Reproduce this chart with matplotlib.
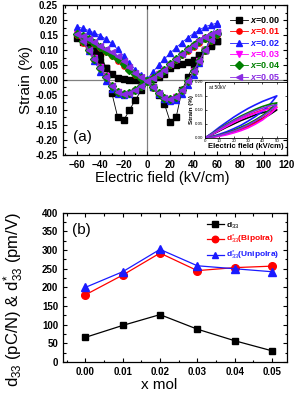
import numpy as np
import matplotlib.pyplot as plt
from matplotlib.ticker import MultipleLocator

plt.rcParams['font.family'] = ['Liberation Sans', 'DejaVu Sans']
plt.rcParams['mathtext.fontset'] = 'custom'
plt.rcParams['mathtext.rm'] = 'Liberation Sans'
plt.rcParams['mathtext.it'] = 'Liberation Sans:italic:bold'
plt.rcParams['mathtext.bf'] = 'Liberation Sans:bold'

# ---- panel (a): bipolar strain loops, field cycle 60 -> -60 -> 60 kV/cm ----
field_down = [60, 55, 50, 45, 40, 35, 30, 25, 20, 15, 10, 5, 0,
              -5, -10, -15, -20, -25, -30, -35, -40, -45, -50, -55, -60]
field_up = [-60, -55, -50, -45, -40, -35, -30, -25, -20, -15, -10, -5, 0,
            5, 10, 15, 20, 25, 30, 35, 40, 45, 50, 55, 60]

labels_a = ['x=0.00', 'x=0.01', 'x=0.02', 'x=0.03', 'x=0.04', 'x=0.05']
colors_a = ['black', 'red', '#1a1aff', '#ff00ff', '#008000', '#8a2be2']
markers_a = ['s', 'o', '^', 'v', 'D', '<']

strain_down = [
    [0.130, 0.115, 0.100, 0.085, 0.067, 0.060, 0.055, 0.050, 0.040, 0.020, 0.010, 0.002, -0.003,
     -0.035, -0.067, -0.100, -0.135, -0.125, -0.045, 0.040, 0.088, 0.110, 0.125, 0.135, 0.140],
    [0.150, 0.145, 0.136, 0.124, 0.111, 0.097, 0.082, 0.066, 0.049, 0.033, 0.018, 0.006, -0.005,
     -0.020, -0.034, -0.044, -0.046, -0.040, -0.020, 0.010, 0.040, 0.068, 0.097, 0.125, 0.150],
    [0.190, 0.184, 0.178, 0.167, 0.155, 0.141, 0.125, 0.108, 0.090, 0.070, 0.050, 0.026, 0.002,
     -0.018, -0.034, -0.046, -0.051, -0.046, -0.030, -0.005, 0.028, 0.062, 0.098, 0.138, 0.178],
    [0.152, 0.148, 0.139, 0.127, 0.114, 0.100, 0.085, 0.068, 0.051, 0.034, 0.019, 0.006, -0.006,
     -0.022, -0.037, -0.047, -0.049, -0.041, -0.019, 0.012, 0.043, 0.072, 0.101, 0.128, 0.152],
    [0.155, 0.150, 0.141, 0.129, 0.116, 0.102, 0.086, 0.069, 0.052, 0.035, 0.020, 0.007, -0.005,
     -0.021, -0.035, -0.045, -0.047, -0.040, -0.020, 0.010, 0.041, 0.070, 0.100, 0.129, 0.155],
    [0.160, 0.155, 0.145, 0.132, 0.118, 0.103, 0.087, 0.070, 0.052, 0.035, 0.020, 0.007, -0.005,
     -0.020, -0.035, -0.045, -0.047, -0.040, -0.020, 0.010, 0.040, 0.070, 0.100, 0.130, 0.155],
]
strain_up = [
    [0.140, 0.128, 0.112, 0.090, 0.065, 0.040, 0.020, 0.008, 0.003, 0.000, 0.000, 0.000, -0.005,
     -0.025, -0.050, -0.080, -0.140, -0.125, -0.035, 0.010, 0.050, 0.080, 0.100, 0.118, 0.130],
    [0.150, 0.143, 0.133, 0.120, 0.107, 0.093, 0.080, 0.064, 0.048, 0.032, 0.018, 0.006, -0.004,
     -0.026, -0.046, -0.060, -0.064, -0.056, -0.034, -0.004, 0.030, 0.064, 0.098, 0.130, 0.152],
    [0.180, 0.172, 0.165, 0.157, 0.148, 0.136, 0.122, 0.102, 0.080, 0.057, 0.035, 0.016, -0.002,
     -0.024, -0.046, -0.062, -0.070, -0.066, -0.048, -0.018, 0.018, 0.058, 0.100, 0.145, 0.188],
    [0.152, 0.145, 0.135, 0.122, 0.109, 0.096, 0.083, 0.067, 0.050, 0.034, 0.019, 0.007, -0.004,
     -0.027, -0.047, -0.061, -0.066, -0.058, -0.036, -0.006, 0.029, 0.064, 0.099, 0.132, 0.155],
    [0.155, 0.147, 0.137, 0.124, 0.111, 0.098, 0.085, 0.069, 0.052, 0.035, 0.020, 0.008, -0.003,
     -0.025, -0.045, -0.060, -0.065, -0.058, -0.035, -0.005, 0.030, 0.065, 0.100, 0.133, 0.158],
    [0.155, 0.148, 0.138, 0.126, 0.114, 0.103, 0.095, 0.080, 0.062, 0.042, 0.024, 0.010, -0.003,
     -0.025, -0.045, -0.060, -0.065, -0.058, -0.035, -0.005, 0.030, 0.065, 0.100, 0.135, 0.160],
]

# ---- inset: unipolar loops at 50 kV/cm ----
field_in_up = [0, 5, 10, 15, 20, 25, 30, 35, 40, 45, 50]
field_in_down = [50, 45, 40, 35, 30, 25, 20, 15, 10, 5, 0]
inset_up = [
    [0.000, 0.004, 0.010, 0.018, 0.026, 0.035, 0.045, 0.056, 0.069, 0.083, 0.100],
    [0.000, 0.003, 0.008, 0.014, 0.021, 0.030, 0.041, 0.053, 0.068, 0.087, 0.110],
    [0.000, 0.005, 0.013, 0.022, 0.033, 0.045, 0.060, 0.076, 0.095, 0.118, 0.150],
    [0.000, 0.002, 0.006, 0.011, 0.018, 0.026, 0.036, 0.049, 0.064, 0.084, 0.108],
    [0.000, 0.004, 0.010, 0.018, 0.027, 0.038, 0.050, 0.064, 0.080, 0.100, 0.125],
    [0.000, 0.003, 0.009, 0.016, 0.024, 0.034, 0.046, 0.060, 0.076, 0.095, 0.118],
]
inset_down = [
    [0.100, 0.096, 0.090, 0.082, 0.072, 0.062, 0.050, 0.038, 0.025, 0.012, 0.000],
    [0.110, 0.106, 0.099, 0.090, 0.080, 0.068, 0.056, 0.042, 0.028, 0.014, 0.000],
    [0.150, 0.140, 0.130, 0.118, 0.105, 0.090, 0.074, 0.056, 0.038, 0.018, 0.000],
    [0.108, 0.104, 0.097, 0.088, 0.078, 0.067, 0.055, 0.041, 0.027, 0.013, 0.000],
    [0.125, 0.120, 0.112, 0.102, 0.090, 0.078, 0.064, 0.049, 0.033, 0.016, 0.000],
    [0.118, 0.114, 0.106, 0.097, 0.086, 0.074, 0.061, 0.046, 0.031, 0.015, 0.000],
]

# ---- panel (b): piezoelectric coefficients ----
x_mol = [0.00, 0.01, 0.02, 0.03, 0.04, 0.05]
d33 = [66, 98, 127, 88, 57, 30]
d33_bipolar = [180, 233, 292, 245, 253, 257]
d33_unipolar = [200, 242, 302, 258, 250, 242]


def style_axis(ax, size=7):
    ax.tick_params(which='both', direction='in', top=True, right=True, labelsize=size)
    ax.tick_params(which='major', length=3, width=0.8)
    ax.tick_params(which='minor', length=1.8, width=0.8)
    for lab in ax.get_xticklabels() + ax.get_yticklabels():
        lab.set_fontweight('bold')
    for sp in ax.spines.values():
        sp.set_linewidth(0.9)


fig = plt.figure(figsize=(2.97, 4.01), dpi=100)

# panel (a)
ax1 = fig.add_axes([0.212, 0.6135, 0.754, 0.374])
ax1.axhline(0, color='#808080', lw=0.9, zorder=1)
ax1.axvline(0, color='#808080', lw=0.9, zorder=1)
for i in range(len(labels_a)):
    e = field_down + field_up[1:]
    s = strain_down[i] + strain_up[i][1:]
    ax1.plot(e, s, color=colors_a[i], lw=0.6, marker=markers_a[i], ms=3.8,
             mec=colors_a[i], label=r'$\mathit{x}$=' + labels_a[i][2:], zorder=2 + i)
ax1.set_xlim(-72, 120)
ax1.set_ylim(-0.25, 0.25)
ax1.xaxis.set_major_locator(MultipleLocator(20))
ax1.xaxis.set_minor_locator(MultipleLocator(10))
ax1.yaxis.set_major_locator(MultipleLocator(0.05))
ax1.yaxis.set_minor_locator(MultipleLocator(0.025))
ax1.yaxis.set_major_formatter(plt.FormatStrFormatter('%.2f'))
style_axis(ax1)
ax1.set_xlabel('Electric field (kV/cm)', fontsize=10.5, labelpad=1)
ax1.xaxis.set_label_coords(0.445, -0.11)
ax1.set_ylabel('Strain (%)', fontsize=11, labelpad=2)
ax1.text(-63, -0.19, '(a)', fontsize=11, va='center')
leg = ax1.legend(loc='upper right', fontsize=6.5, frameon=False, handlelength=2.0,
                 labelspacing=0.15, handletextpad=0.3, borderaxespad=0.3,
                 bbox_to_anchor=(1.0, 0.975))
for t, c in zip(leg.get_texts(), colors_a):
    t.set_color(c)
    t.set_fontweight('bold')

# inset
ax_in = fig.add_axes([0.69, 0.656, 0.276, 0.14])
for i in range(len(labels_a)):
    ax_in.plot(field_in_up + field_in_down[1:], inset_up[i] + inset_down[i][1:],
               color=colors_a[i], lw=1.2)
ax_in.set_xlim(0, 57)
ax_in.set_ylim(0, 0.20)
ax_in.xaxis.set_major_locator(MultipleLocator(10))
ax_in.yaxis.set_major_locator(MultipleLocator(0.05))
ax_in.yaxis.set_major_formatter(plt.FormatStrFormatter('%.2f'))
ax_in.tick_params(which='both', direction='in', top=True, right=True, labelsize=3.2,
                  length=1.5, width=0.5, pad=1)
for sp in ax_in.spines.values():
    sp.set_linewidth(0.6)
ax_in.set_xlabel('Electric field (kV/cm)', fontsize=5.5, fontweight='bold', labelpad=0)
ax_in.set_ylabel('Strain (%)', fontsize=4.5, fontweight='bold', labelpad=1)
ax_in.text(3, 0.175, 'at 50kV', fontsize=3.5)

# panel (b)
ax2 = fig.add_axes([0.212, 0.0973, 0.754, 0.372])
ax2.plot(x_mol, d33, color='black', lw=0.9, marker='s', ms=5, label=r'd$_{33}$')
ax2.plot(x_mol, d33_bipolar, color='red', lw=0.9, marker='o', ms=5.5,
         label=r'd$_{33}^{*}$(Bipolra)')
ax2.plot(x_mol, d33_unipolar, color='#1a1aff', lw=0.9, marker='^', ms=5.5,
         label=r'd$_{33}^{*}$(Unipolra)')
ax2.set_xlim(-0.006, 0.054)
ax2.set_ylim(0, 400)
ax2.xaxis.set_major_locator(MultipleLocator(0.01))
ax2.xaxis.set_minor_locator(MultipleLocator(0.005))
ax2.yaxis.set_major_locator(MultipleLocator(50))
ax2.yaxis.set_minor_locator(MultipleLocator(25))
ax2.xaxis.set_major_formatter(plt.FormatStrFormatter('%.2f'))
style_axis(ax2)
ax2.set_xlabel('x mol', fontsize=11, labelpad=2)
ax2.xaxis.set_label_coords(0.43, -0.11)
ax2.set_ylabel(r'd$_{33}$ (pC/N) & d$_{33}^{*}$ (pm/V)', fontsize=12, labelpad=3)
ax2.yaxis.set_label_coords(-0.165, 0.42)
ax2.text(-0.0035, 354, '(b)', fontsize=11, va='center')
leg2 = ax2.legend(loc='upper right', fontsize=6, frameon=False, handlelength=2.0,
                  labelspacing=0.3, handletextpad=0.3, borderaxespad=0.5, markerscale=0.85)
for t, c in zip(leg2.get_texts(), ['black', 'red', '#1a1aff']):
    t.set_color(c)
    t.set_fontweight('bold')

fig.savefig('out.png', dpi=100)
